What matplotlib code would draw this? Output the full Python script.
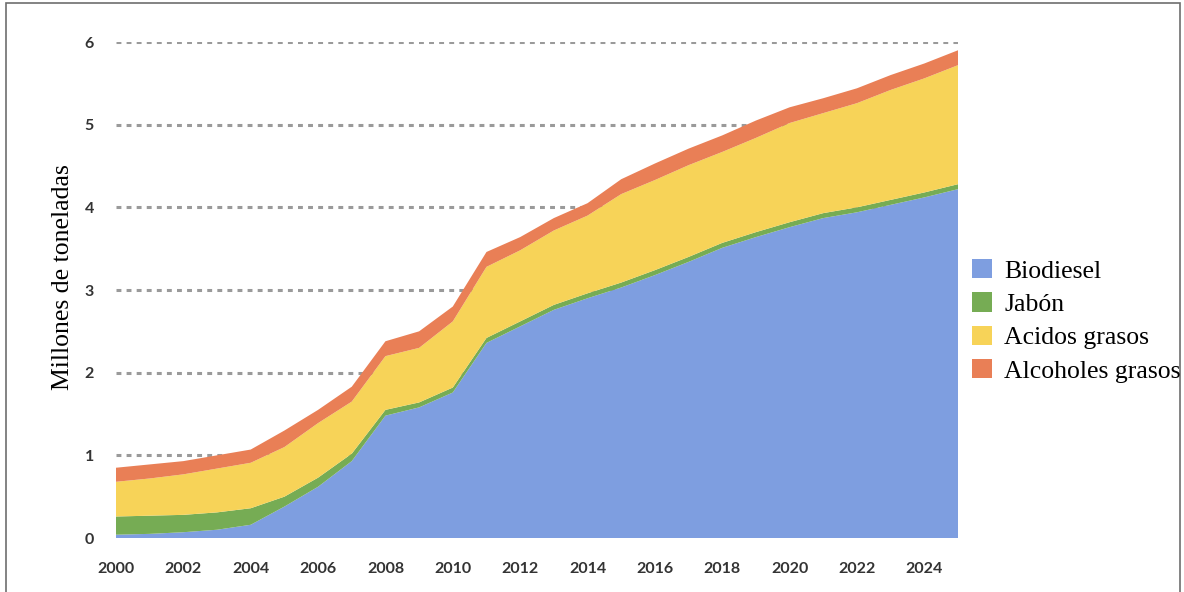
import matplotlib
matplotlib.use("Agg")
import matplotlib.pyplot as plt
from matplotlib.patches import Patch, Rectangle
import numpy as np

years = list(range(2000, 2026))

# millones de toneladas por uso (capas apiladas)
biodiesel = [0.04, 0.05, 0.07, 0.10, 0.16, 0.38, 0.62, 0.93, 1.48, 1.58,
             1.76, 2.36, 2.56, 2.76, 2.90, 3.03, 3.18, 3.34, 3.51, 3.64,
             3.76, 3.87, 3.94, 4.03, 4.12, 4.22]
jabon = [0.22, 0.22, 0.21, 0.21, 0.20, 0.12, 0.11, 0.09, 0.07, 0.06,
         0.06, 0.06, 0.06, 0.06, 0.06, 0.06, 0.06, 0.06, 0.06, 0.06,
         0.06, 0.06, 0.06, 0.06, 0.06, 0.06]
acidos = [0.42, 0.45, 0.49, 0.53, 0.55, 0.60, 0.66, 0.63, 0.65, 0.66,
          0.80, 0.86, 0.86, 0.90, 0.94, 1.07, 1.09, 1.11, 1.10, 1.14,
          1.20, 1.21, 1.26, 1.33, 1.38, 1.44]
alcoholes = [0.17, 0.17, 0.16, 0.16, 0.16, 0.20, 0.16, 0.18, 0.18, 0.20,
             0.18, 0.18, 0.16, 0.15, 0.15, 0.18, 0.20, 0.20, 0.20, 0.21,
             0.19, 0.18, 0.18, 0.18, 0.18, 0.18]

labels = ['Biodiesel', 'Jabón', 'Acidos grasos', 'Alcoholes grasos']
colors = ['#7E9EE0', '#76AC54', '#F7D358', '#E97F56']

fig = plt.figure(figsize=(11.84, 5.92), dpi=100)
ax = fig.add_axes([116/1184, 54/592, (958-116)/1184, (538-42)/592])

ax.stackplot(years, biodiesel, jabon, acidos, alcoholes,
             colors=colors, linewidth=0, zorder=2)

ax.set_xlim(2000, 2025)
ax.set_ylim(0, 6)
ax.set_xticks(range(2000, 2025, 2))
ax.set_yticks(range(0, 7))
ax.grid(axis='y', color='#9a9a9a', linewidth=2.2,
        linestyle=(0, (1.6, 1.7)), zorder=0)
ax.set_axisbelow(True)
for s in ax.spines.values():
    s.set_visible(False)
ax.tick_params(length=0, labelsize=11.5, labelcolor='#333333')
ax.tick_params(axis='x', pad=17)
ax.tick_params(axis='y', pad=16)
for t in ax.get_xticklabels() + ax.get_yticklabels():
    t.set_fontfamily('Lato')
    t.set_fontweight('bold')

fig.text(63/1184, 1 - 277/592, 'Millones de toneladas', rotation=90,
         ha='center', va='center', fontsize=18.5, family='Liberation Serif')

handles = [Patch(facecolor=c, edgecolor='none') for c in colors]
fig.legend(handles, labels, loc='upper left',
           bbox_to_anchor=(972/1184, 1 - 259/592), frameon=False,
           prop={'family': 'Liberation Serif', 'size': 18.5},
           handlelength=0.78, handleheight=0.78, handletextpad=0.47,
           labelspacing=0.38, borderpad=0, borderaxespad=0)

# marco fino alrededor de la figura
fig.patches.append(Rectangle((6/1184, -0.05), (1180-6)/1184, 1.05 - 2.5/592,
                             transform=fig.transFigure, fill=False,
                             edgecolor='#6e6e6e', linewidth=1.2))

fig.savefig('out.png', dpi=100)
